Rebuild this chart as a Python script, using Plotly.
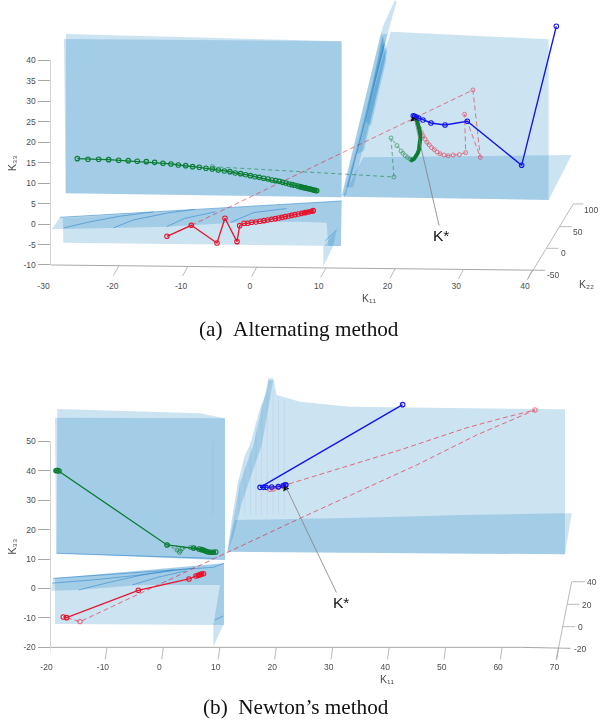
import plotly.graph_objects as go

# ---------- Panel (a): Alternating method ----------
a_green_k11 = [-26.10,-24.55,-23.0,-21.55,-20.09,-18.69,-17.38,-16.07,-14.86,-13.65,-12.49,-11.42,-10.35,-9.34,-8.37,-7.4,-6.48,-5.61,-4.73,-3.91,-3.14,-2.36,-1.63,-0.95,-0.28,0.35,0.99,1.62,2.2,2.73,3.27,3.75,4.23,4.66,5.1,5.49,5.93,6.26,6.5,6.75,7.0,7.25,7.5,7.75,8.0,8.2,8.4,8.6,8.7]
a_green_k33 = [16.0,15.84,15.84,15.75,15.59,15.51,15.35,15.27,15.1,14.86,14.7,14.45,14.29,14.04,13.88,13.64,13.47,13.23,12.98,12.82,12.49,12.33,12.08,11.84,11.59,11.43,11.19,11.03,10.78,10.62,10.45,10.21,10.05,9.8,9.64,9.48,9.31,9.15,9.05,8.95,8.85,8.75,8.65,8.55,8.45,8.35,8.28,8.2,8.15]
a_green_dash_k11 = [-6.48,19.93,19.5,20.37,20.95,21.24,21.58,21.87,22.26,22.5]
a_green_dash_k33 = [14.04,11.52,21.05,19.18,17.87,17.3,16.73,16.32,15.92,15.67]
a_green_curve_k11 = [22.3,22.5,22.84,23.13,23.37,23.57,23.71,23.76,23.71,23.57,23.32,23.03]
a_green_curve_k33 = [15.8,15.67,15.92,16.49,17.3,18.28,19.58,20.97,22.36,23.82,25.05,26.1]
a_red_k11 = [-13.07,-9.53,-5.8,-4.64,-2.89,-2.5,-1.87,-1.34,-0.76,-0.13,0.45,1.03,1.57,2.15,2.68,3.17,3.65,4.13,4.62,5.05,5.54,6.02,6.5,7.0,7.47,7.96,8.2]
a_red_k33 = [-2.99,-0.3,-4.62,1.41,-4.3,-0.38,0.19,0.19,0.43,0.51,0.68,0.84,1.0,1.16,1.33,1.49,1.65,1.82,1.98,2.14,2.31,2.47,2.63,2.8,2.96,3.12,3.29]
a_red_dash_k11 = [-9.53,31.41,32.48,30.2,30.35,29.43,28.55,27.83,27.2,26.62,26.18,25.8,25.4,25.07,24.73,24.44,24.15,23.9,23.66,23.42,23.23,22.98]
a_red_dash_k33 = [-0.3,32.79,16.32,26.84,17.47,16.98,16.89,16.73,16.89,17.2,17.63,18.2,18.7,19.35,20.0,20.8,21.6,22.4,23.4,24.6,25.6,26.3]
a_blue_k11 = [43.53,38.49,30.59,27.35,25.31,24.15,23.52,23.18,22.94,22.74]
a_blue_k33 = [48.36,14.37,25.13,24.23,24.72,25.45,25.94,26.2,26.35,26.5]

a_sheets = [
    ([-27.75,12.32,12.32,-27.79],[46.48,44.69,6.54,7.52]),
    ([-28.04,12.32,12.32,-27.79],[45.26,44.69,6.54,7.52]),
    ([12.56,19.45,42.41,42.41],[6.71,47.05,45.17,5.89]),
    ([12.56,15.47,45.75,42.41],[6.71,16.32,16.9,5.89]),
    ([12.32,18.28,20.08,20.32,19.1,12.8],[6.9,48.27,54.79,54.38,47.05,6.71]),
    ([12.4,18.0,19.0,13.0],[7.1,46.5,46.5,7.2]),
    ([13.0,18.3,18.95,14.0],[9.0,44.0,42.0,9.0]),
    ([14.5,18.3,18.9,15.6],[17.0,46.0,43.0,18.0]),
    ([15.8,18.2,18.8,16.6],[25.0,46.0,40.0,24.0]),
    ([-28.23,12.32,12.22,-28.13],[1.41,5.65,-5.36,-4.54]),
    ([-29.83,-28.62,12.32,12.22,10.38,10.14,6.27,-3.42,-13.11,-20.87],[-1.28,1.65,5.65,-5.36,-5.36,0.35,0.6,0.35,-0.63,-0.95]),
    ([9.66,9.66,11.59,11.1],[-10.4,-5.52,-1.44,-5.36]),
]
a_streaks = [
    ([-28.62,6.27,12.32],[1.65,4.92,5.65]),
    ([-28.0,-24.4,-20.0,-15.0],[-0.9,0.5,1.9,3.0]),
    ([-20.87,-18.0,-13.0,-9.0],[-0.95,1.0,2.7,3.6]),
    ([-13.11,-10.5,-6.0],[-0.63,1.4,3.0]),
    ([-3.8,-0.5,4.3],[0.4,2.8,3.8]),
    ([9.9,11.6],[-4.2,-1.4]),
    ([13.2,16.0,18.5],[9.0,27.0,44.0]),
]
a_x_tick_k11 = [-30.07,-30.7,None,-20.04,-20.87,None,-10.06,-10.8,None,-0.03,-0.76,None,10.05,9.27,None,20.08,19.35,None,30.03,29.3,None,40.0,39.3]
a_x_tick_k33 = [-10.0,-12.45,None,-10.16,-12.6,None,-10.4,-12.7,None,-10.57,-12.85,None,-10.8,-13.0,None,-10.98,-13.26,None,-11.1,-13.45,None,-11.3,-13.7]
a_axis_k11 = [-30.0,41.87]
a_axis_k33 = [-10.0,-11.3]
a_y_axis_k11 = [-30.0,-30.0]
a_y_axis_k33 = [-10.0,40.0]
a_depth_k11 = [39.22,46.0,47.45,None,43.97,45.76,None,42.12,43.82]
a_depth_k33 = [-13.83,4.92,4.92,None,-0.63,-0.63,None,-5.93,-5.93]
a_depth_labels = ["100","50","0","-50"]
a_depth_label_k11 = [48.5,46.73,44.55,43.19]
a_depth_label_k33 = [3.45,-1.85,-7.15,-12.45]
a_tip_k11 = [22.75]
a_tip_k33 = [25.6]

# ---------- Panel (b): Newton's method ----------
b_green_k11 = [-19.02,-18.91,-18.49,-18.7,0.64,5.36,6.31,6.78,7.19,7.55,7.96,8.37,8.84,9.26]
b_green_k33 = [40.03,40.1,39.92,40.1,14.78,13.76,13.42,13.19,12.97,12.63,12.4,12.29,12.29,12.4]
b_green_dash_k11 = [0.64,2.4,2.85,3.0,3.35,4.8,5.36]
b_green_dash_k33 = [14.78,13.1,12.3,12.8,13.6,13.9,13.76]
b_red_k11 = [-17.73,-17.14,-4.44,4.53,5.77,6.19,6.48,6.78,7.1]
b_red_k33 = [-9.68,-9.91,-0.62,3.23,4.25,4.47,4.7,4.93,5.0]
b_red_dash_k11 = [-17.14,-14.77,24.2,44.87,55.49,65.83,59.63,53.72,41.91,33.06,24.2,21.24,20.36,19.47,18.88]
b_red_dash_k33 = [-9.91,-11.27,23.84,41.96,52.15,60.65,57.7,54.6,47.06,41.96,36.86,34.94,34.37,33.8,33.69]
b_red_open_k11 = [-14.77,65.83,21.24,20.36,19.47,18.88]
b_red_open_k33 = [-11.27,60.65,34.94,34.37,33.8,33.69]
b_blue_k11 = [42.38,17.12,17.7,18.17,19.18,20.36,21.24,21.54,21.7]
b_blue_k33 = [62.46,34.37,34.37,34.37,34.48,34.6,34.94,35.16,35.2]
b_tip_k11 = [21.65]
b_tip_k33 = [33.9]

b_sheets = [
    ([-18.79,6.48,10.91,10.91,-18.91],[60.99,59.51,57.81,9.68,11.95]),
    ([-19.2,10.91,10.91,8.84,-19.02],[58.04,57.81,9.68,9.68,11.95]),
    ([11.33,12.09,13.16,14.45,15.34,16.52,17.12,18.3,18.59,19.47,20.06,24.2,33.06,71.14,71.14],[12.51,23.27,35.73,45.36,48.75,57.25,61.2,66.87,71.4,71.4,65.74,63.48,61.78,60.87,11.61]),
    ([11.33,12.68,34.83,53.13,70.26,72.32,71.14],[12.51,23.27,24.07,24.97,25.54,25.54,11.61]),
    ([11.33,12.38,13.56,15.93,18.59,19.47,17.42,13.86,12.38],[12.51,23.27,35.73,48.75,70.84,70.84,48.75,28.94,17.61]),
    ([-19.2,10.73,10.73,-19.2],[3.45,8.55,-12.4,-12.06]),
    ([-19.91,-19.5,10.73,10.73,8.84,10.03,10.03,-4.14,-15.36,-19.91],[-0.73,3.45,8.55,-12.4,-12.4,0.62,1.19,1.19,-0.51,-0.73]),
    ([8.84,8.84,10.62],[-19.76,-12.4,-12.4]),
]
b_streaks = [
    ([-18.91,8.84],[11.95,10.25]),
    ([-19.5,8.84,10.73],[3.45,7.19,8.55]),
    ([-19.7,-12.0,-5.0,1.0,5.5],[1.8,3.0,4.4,5.9,7.0]),
    ([-15.0,-10.0,-4.0,2.0],[-0.5,1.9,4.5,6.4]),
    ([-5.5,-1.0,4.0],[1.2,3.8,6.0]),
    ([9.14,10.62],[-10.7,-9.34]),
]
b_stripes_k11 = [8.8,13.4,14.4,15.4,16.4,17.4,18.4,19.4,20.4,21.4]
b_stripes_top = [50,37,44,50,57,63,68,67,65,64]
b_x_tick_k11 = [-20.0,-20.3,None,-10.0,-10.3,None,0.0,-0.3,None,10.0,9.7,None,20.0,19.7,None,30.0,29.7,None,40.0,39.7,None,50.0,49.7,None,60.0,59.7,None,70.0,69.7]
b_x_tick_k33 = [-20.0,-24.08,None]*9 + [-20.0,-24.08]
b_axis_k11 = [-20.0,63.46,72.14]
b_axis_k33 = [-20.0,-20.0,-20.33]
b_y_axis_k11 = [-20.0,-20.0]
b_y_axis_k33 = [-20.0,50.0]
b_depth_k11 = [69.55,72.32,74.68,None,71.6,73.68,None,70.66,72.9]
b_depth_k33 = [-24.5,2.3,2.3,None,-5.38,-5.38,None,-12.97,-12.97]
b_depth_labels = ["40","20","0","-20"]
b_depth_label_k11 = [75.98,75.1,73.9,73.8]
b_depth_label_k33 = [2.2,-5.5,-13.0,-20.6]

a_x_ticks = [-30,-20,-10,0,10,20,30,40]
a_y_ticks = [-10,-5,0,5,10,15,20,25,30,35,40]
b_x_ticks = [-20,-10,0,10,20,30,40,50,60,70]
b_y_ticks = [-20,-10,0,10,20,30,40,50]

SHEET = "rgba(0,114,189,0.2)"
STREAK = "rgba(40,130,200,0.55)"
GRAY = "#a8a8a8"
TXT = "#4d4d4d"
FONT = "Liberation Sans"
GREEN, RED, BLUE = "#0a7d32", "#e8142d", "#1414f0"

fig = go.Figure()

def poly(x, y, xa, ya):
    fig.add_trace(go.Scatter(x=x+x[:1], y=y+y[:1], mode="lines", fill="toself", fillcolor=SHEET,
                             line=dict(width=0), hoverinfo="skip", xaxis=xa, yaxis=ya))

def line(x, y, xa, ya, color, width=1.0, dash="solid", marker=0, mwidth=1.0, opacity=1.0):
    fig.add_trace(go.Scatter(x=x, y=y, mode="lines+markers" if marker else "lines", opacity=opacity,
                             line=dict(color=color, width=width, dash=dash),
                             marker=dict(symbol="circle-open", size=marker, color=color, line=dict(width=mwidth, color=color)) if marker else None,
                             cliponaxis=False, hoverinfo="skip", xaxis=xa, yaxis=ya))

def dots(x, y, xa, ya, color, size, opacity=1.0):
    fig.add_trace(go.Scatter(x=x, y=y, mode="markers", opacity=opacity, cliponaxis=False, hoverinfo="skip",
                             marker=dict(symbol="circle-open", size=size, color=color, line=dict(width=0.9, color=color)),
                             xaxis=xa, yaxis=ya))

def tip(x, y, xa, ya, angle):
    fig.add_trace(go.Scatter(x=x, y=y, mode="markers", cliponaxis=False, hoverinfo="skip",
                             marker=dict(symbol="triangle-up", size=6, color="#111111", angle=angle, line=dict(width=0)),
                             xaxis=xa, yaxis=ya))

def panel(sheets, streaks, xa, ya):
    for sx, sy in sheets:
        poly(sx, sy, xa, ya)
    for sx, sy in streaks:
        line(sx, sy, xa, ya, STREAK, 1.0)

panel(a_sheets, a_streaks, "x", "y")
line(a_axis_k11, a_axis_k33, "x", "y", GRAY)
line(a_y_axis_k11, a_y_axis_k33, "x", "y", GRAY)
line(a_x_tick_k11, a_x_tick_k33, "x", "y", GRAY, 0.8)
line(a_depth_k11, a_depth_k33, "x", "y", GRAY, 0.8)
line(a_green_dash_k11, a_green_dash_k33, "x", "y", GREEN, 0.9, "4px,3px", 4, 0.9, 0.6)
line(a_red_dash_k11, a_red_dash_k33, "x", "y", RED, 0.9, "5px,3px", 4, 0.9, 0.6)
line(a_green_k11, a_green_k33, "x", "y", GREEN, 1.3, "solid", 4.5, 1.1)
line(a_green_curve_k11, a_green_curve_k33, "x", "y", GREEN, 4.0)
line(a_red_k11, a_red_k33, "x", "y", RED, 1.3, "solid", 4.5, 1.1)
line(a_red_k11[-5:], a_red_k33[-5:], "x", "y", RED, 3.6)
line(a_green_k11[-12:], a_green_k33[-12:], "x", "y", GREEN, 3.8)
line(a_blue_k11, a_blue_k33, "x", "y", BLUE, 1.4, "solid", 4.5, 1.1)
tip(a_tip_k11, a_tip_k33, "x", "y", -13)

panel(b_sheets, b_streaks, "x2", "y2")
for kx, kt in zip(b_stripes_k11, b_stripes_top):
    line([kx, kx], [25.0, kt], "x2", "y2", "rgba(40,130,200,0.09)", 1.0)
line(b_axis_k11, b_axis_k33, "x2", "y2", GRAY)
line(b_y_axis_k11, b_y_axis_k33, "x2", "y2", GRAY)
line(b_x_tick_k11, b_x_tick_k33, "x2", "y2", GRAY, 0.8)
line(b_depth_k11, b_depth_k33, "x2", "y2", GRAY, 0.8)
line(b_green_dash_k11, b_green_dash_k33, "x2", "y2", GREEN, 0.9, "3px,2px", 4, 0.9, 0.75)
line(b_red_dash_k11, b_red_dash_k33, "x2", "y2", RED, 0.9, "5px,3px", 0, 0.9, 0.65)
dots(b_red_open_k11, b_red_open_k33, "x2", "y2", RED, 4.5, 0.75)
line(b_green_k11, b_green_k33, "x2", "y2", GREEN, 1.3, "solid", 4.5, 1.1)
line(b_green_k11[5:], b_green_k33[5:], "x2", "y2", GREEN, 2.4)
line(b_red_k11, b_red_k33, "x2", "y2", RED, 1.3, "solid", 4.5, 1.1)
line(b_red_k11[-5:], b_red_k33[-5:], "x2", "y2", RED, 3.6)
line(b_blue_k11, b_blue_k33, "x2", "y2", BLUE, 1.4, "solid", 4.5, 1.1)
line(b_blue_k11[-3:], b_blue_k33[-3:], "x2", "y2", BLUE, 3.0)
tip(b_tip_k11, b_tip_k33, "x2", "y2", -25)

def text(t, x, y, xa, ya, size=8.5, color=TXT, angle=0, family=FONT):
    fig.add_annotation(text=t, x=x, y=y, xref=xa, yref=ya, showarrow=False, textangle=angle,
                       font=dict(family=family, size=size, color=color), xanchor="center", yanchor="middle")

for t, x, y in zip(a_depth_labels, a_depth_label_k11, a_depth_label_k33):
    text(t, x, y, "x", "y")
for t, x, y in zip(b_depth_labels, b_depth_label_k11, b_depth_label_k33):
    text(t, x, y, "x2", "y2")

# axis names lie outside the axis ranges, so they are placed relative to the page
text("K\u2081\u2081", 369.3/600, 1-298/723, "paper", "paper", 10.5)
text("K\u2082\u2082", 586/600, 1-284/723, "paper", "paper", 10.5)
text("K\u2083\u2083", 12/600, 1-163/723, "paper", "paper", 10.5, angle=-90)
text("K\u2081\u2081", 387.7/600, 1-679.3/723, "paper", "paper", 10.5)
text("K\u2083\u2083", 11.7/600, 1-546.7/723, "paper", "paper", 10.5, angle=-90)

def kstar(x, y, xa, ya, ax, ay):
    fig.add_annotation(text="K*", x=x, y=y, xref=xa, yref=ya, ax=ax, ay=ay, showarrow=True,
                       arrowhead=0, arrowwidth=0.8, arrowcolor="#808080",
                       font=dict(family=FONT, size=15.5, color="#111111"))

kstar(22.9, 25.7, "x", "y", 27, 116.5)
kstar(21.75, 34.3, "x2", "y2", 55, 115)

for t, xx, yy in (("(a)\u2002Alternating method", 299, 329), ("(b)\u2002Newton\u2019s method", 295.5, 707)):
    fig.add_annotation(text=t, x=xx/600, y=1-yy/723, xref="paper", yref="paper", showarrow=False,
                       font=dict(family="Liberation Serif", size=21.2, color="#111111"),
                       xanchor="center", yanchor="middle")

def xax(rng, dom_anchor, vals, shift):
    return dict(range=rng, domain=[50.5/600, 1], anchor=dom_anchor, tickmode="array", tickvals=vals,
                ticktext=[str(v) for v in vals], showgrid=False, zeroline=False, showline=False, ticks="",
                automargin=False, tickfont=dict(family=FONT, size=8.5, color=TXT), ticklabelshift=shift, ticklabelstandoff=0)

def yax(rng, dom, anchor, vals):
    return dict(range=rng, domain=dom, anchor=anchor, tickmode="array", tickvals=vals,
                ticktext=[str(v) for v in vals], showgrid=False, zeroline=False, showline=False,
                ticks="outside", ticklen=12, tickcolor=GRAY, tickwidth=1, automargin=False,
                tickfont=dict(family=FONT, size=8.5, color=TXT))

fig.update_layout(
    width=600, height=723, margin=dict(l=0, r=0, t=0, b=0), showlegend=False,
    paper_bgcolor="white", plot_bgcolor="white",
    xaxis=xax([-30, 49.88], "y", a_x_ticks, -7),
    yaxis=yax([-13.55, 54.79], [1-279.5/723, 1], "x", a_y_ticks),
    xaxis2=xax([-20, 77.34], "y2", b_x_ticks, -4),
    yaxis2=yax([-24.3, 73.56], [1-660/723, 1-372/723], "x2", b_y_ticks),
)
fig.write_html("out.html", config={"displayModeBar": False},
               post_script="document.body.style.margin='0';document.documentElement.style.overflow='hidden';window.scrollTo(0,0);")
